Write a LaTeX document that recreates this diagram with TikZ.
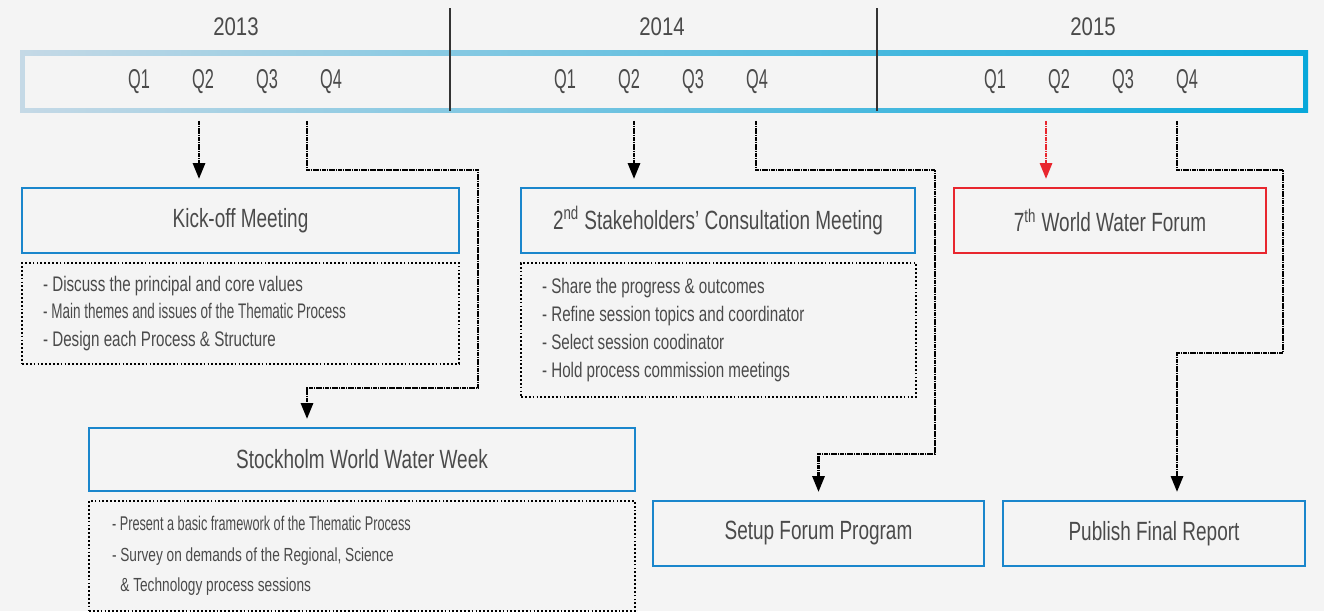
\documentclass[tikz,border=0pt]{standalone}
\usepackage{fontspec}
\setmainfont{Liberation Sans}[FakeStretch=0.72]
\newfontfamily\yearfont{Liberation Sans}[FakeStretch=0.8]
\newfontfamily\qfont{Liberation Sans}[FakeStretch=0.6]
\newfontfamily\narrowfont{Liberation Sans}[FakeStretch=0.64]
\usetikzlibrary{arrows.meta,calc}
\definecolor{boxblue}{HTML}{1A86CC}
\definecolor{forumred}{HTML}{E8262E}
\definecolor{txt}{HTML}{4A4A4A}
\definecolor{paper}{HTML}{F4F4F4}
\definecolor{lineA}{HTML}{C5D9E6}
\definecolor{lineB}{HTML}{52A5CD}
\definecolor{lineC}{HTML}{08A8DA}

\begin{document}
\begin{tikzpicture}[x=0.02cm,y=0.02cm,
    every node/.style={text=txt},
    event/.style={draw=boxblue,line width=1.4pt,minimum height=1.3cm,
        font=\fontsize{15}{18}\selectfont},
    notes/.style={draw=black,line width=1pt,dash pattern=on 1pt off 1.2pt,
        align=left,inner xsep=0.42cm,font=\fontsize{12}{15.9}\selectfont,
        execute at begin node={\spaceskip=0pt\relax\xspaceskip=0pt\relax}},
    flow/.style={line width=1.2pt,dash pattern=on 1pt off 0.3pt,
        -{Triangle[length=9pt,width=7pt]},shorten >=4.5pt},
    year/.style={font=\yearfont\fontsize{14.5}{17}\selectfont},
    qtr/.style={font=\qfont\fontsize{15.5}{18}\selectfont}]
    \fill[paper] (0,0) rectangle (1324,611);
    % timeline
    \shade[left color=lineA,middle color=lineB,right color=lineC] (20,498) rectangle (1308,560);
    \fill[paper] (25,503) rectangle (1303,555);
    \draw[line width=0.8pt,black!80] (450,500) -- (450,603) (877,500) -- (877,603);
    \node[year] (y2013) at (236,584) {2013};
    \node[year] (y2014) at (662,584) {2014};
    \node[year] (y2015) at (1093,584) {2015};
    \foreach \yr/\x in {a/139,b/565,c/995}
        \foreach \n in {1,...,4}
            \node[qtr] (q\yr\n) at ({\x+64*(\n-1)},529) {Q\n};
    \foreach \s/\x in {1/199,2/307,3/634,4/756,5/1046,6/1177}
        \coordinate (s\s) at (\x,490);

    % boxes
    \node[event,minimum width=8.74cm] (kickoff) at (240.5,390.5) {Kick-off Meeting};
    \node[notes,minimum width=8.74cm,minimum height=2.02cm,text width=7.9cm] (kickoffnotes) at (240.5,297.5)
        {- Discuss the principal and core values\\
         {\narrowfont - Main themes and issues of the Thematic Process}\\
         - Design each Process \& Structure};
    \node[event,minimum width=10.92cm,minimum height=1.26cm] (stockholm) at (362,151.5) {Stockholm World Water Week};
    \node[notes,minimum width=10.92cm,minimum height=2.2cm,inner xsep=0.46cm,text width=10cm,
        font=\fontsize{10.8}{17.3}\selectfont] (stockholmnotes) at (362,55)
        {{\narrowfont\fontsize{11.3}{17.3}\selectfont - Present a basic framework of the Thematic Process}\\
         - Survey on demands of the Regional, Science\\
         \hphantom{- }\& Technology process sessions};
    \node[event,minimum width=7.88cm] (stakeholders) at (718,390.5) {2\textsuperscript{nd} Stakeholders’ Consultation Meeting};
    \node[notes,minimum width=7.9cm,minimum height=2.68cm,text width=7.06cm] (stakeholdersnotes) at (718.5,281)
        {- Share the progress \& outcomes\\
         - Refine session topics and coordinator\\
         - Select session coodinator\\
         - Hold process commission meetings};
    \node[event,draw=forumred,minimum width=6.24cm] (forum) at (1110,390.5) {7\textsuperscript{th} World Water Forum};
    \node[event,minimum width=6.62cm] (setup) at (818.5,77.5) {Setup Forum Program};
    \node[event,minimum width=6.04cm] (publish) at (1154,77.5) {Publish Final Report};

    % connectors
    \draw[flow] (s1) -- (s1 |- kickoff.north);
    \draw[flow] (s2) -- ++(0,-49) -- ++(171,0) -- ++(0,-218) -| (s2 |- stockholm.north);
    \draw[flow] (s3) -- (s3 |- stakeholders.north);
    \draw[flow] (s4) -- ++(0,-49) -- ++(179,0) -- ++(0,-284) -| (setup.north);
    \draw[flow,forumred] (s5) -- (s5 |- forum.north);
    \draw[flow] (s6) -- ++(0,-49) -- ++(106,0) -- ++(0,-183) -| (s6 |- publish.north);
\end{tikzpicture}
\end{document}
